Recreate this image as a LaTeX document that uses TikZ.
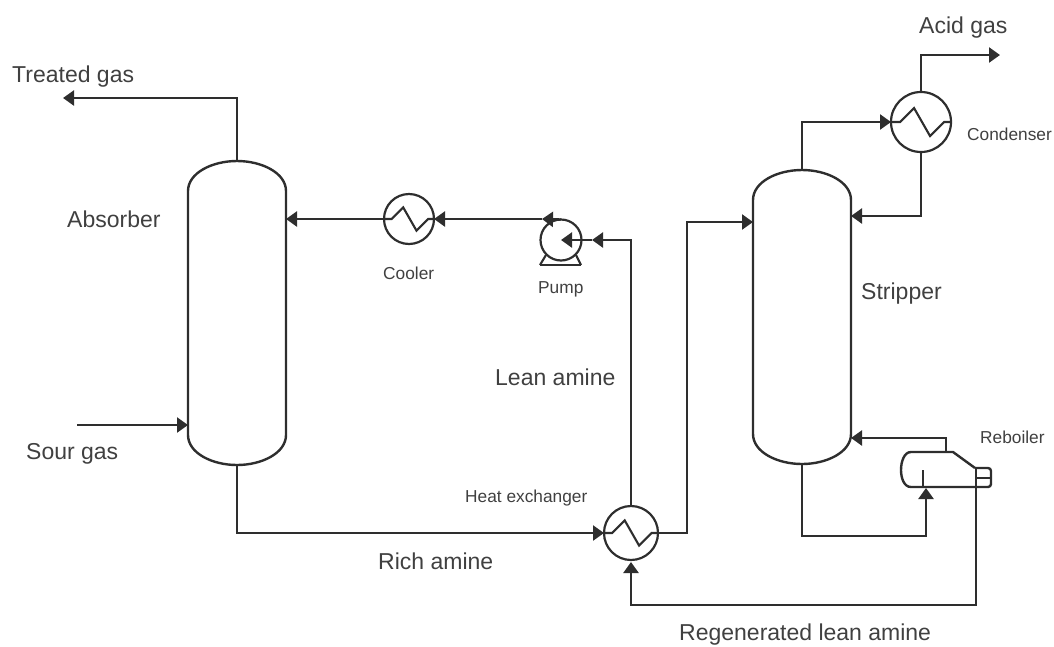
\documentclass[tikz,border=0pt]{standalone}
\usepackage{fontspec}
\setmainfont{Liberation Sans}
\usetikzlibrary{arrows.meta,calc}
\definecolor{ink}{HTML}{2E2E2E}
\definecolor{txt}{HTML}{404040}
\tikzset{
  line/.style={draw=ink,line width=2.4pt,line join=miter},
  thin line/.style={draw=ink,line width=2.1pt},
  flow/.style={line,-{Triangle[length=11pt,width=15pt]}},
  col/.style={minimum width=98pt,inner sep=0pt,outer sep=0pt},
  hx/.style={circle,draw=ink,line width=2.2pt,inner sep=0pt,outer sep=0pt},
  big/.style={font=\fontsize{23}{26}\selectfont,text=txt,inner sep=0pt,anchor=base west},
  small/.style={font=\fontsize{17.3}{20}\selectfont,text=txt,inner sep=0pt,anchor=base west},
}
\newcommand{\colshape}[1]{%
  \draw[line] ([yshift=-30pt]#1.north west)
    .. controls ([yshift=-12pt]#1.north west) and ([xshift=-25pt]#1.north) .. (#1.north)
    .. controls ([xshift=25pt]#1.north) and ([yshift=-12pt]#1.north east) .. ([yshift=-30pt]#1.north east)
    -- ([yshift=30pt]#1.south east)
    .. controls ([yshift=12pt]#1.south east) and ([xshift=25pt]#1.south) .. (#1.south)
    .. controls ([xshift=-25pt]#1.south) and ([yshift=12pt]#1.south west) .. ([yshift=30pt]#1.south west)
    -- cycle;}
\newcommand{\zig}[2]{%
  \draw[thin line,shift={(#1.center)},scale=#2]
    (-30,0) -- (-21,0) -- (-7,-14) -- (9,14) -- (23,0) -- (30,0);}
\begin{document}
\begin{tikzpicture}[x=1pt,y=-1pt]
\useasboundingbox (0,0) rectangle (1054,646);
% vessels
\node[col,minimum height=304pt] (abs) at (237,313) {};
\node[col,minimum height=294pt] (str) at (802,317) {};
\colshape{abs}
\colshape{str}
% exchangers
\node[hx,minimum size=50pt] (cooler) at (409,219) {};
\node[hx,minimum size=54pt] (hxr) at (631,533) {};
\node[hx,minimum size=60pt] (cond) at (921,122) {};
\node[hx,minimum size=41pt] (pump) at (561,240) {};
\zig{cooler}{0.83}
\zig{hxr}{0.9}
\zig{cond}{1}
% pump base
\draw[thin line] (540,265) -- (581,265);
\draw[thin line] (546,255) -- (540,265);
\draw[thin line] (576,255) -- (581,265);
% reboiler
\draw[line,rounded corners=3pt] (975,468) -- (991,468) -- (991,487) -- (975,487);
\draw[line] (975,468) -- (953,452) -- (911,452)
  .. controls (904,452) and (901,462) .. (901,470)
  .. controls (901,478) and (904,487) .. (911,487) -- (975,487);
\draw[thin line] (976,478) -- (990,478);
\draw[thin line] (923,470) -- (923,487);
\coordinate (rebin) at (926,488);
\coordinate (rebout) at (946,452);
\coordinate (rebliq) at (976,468);
% connector ends and bends
\coordinate (tgend) at (63,98);
\coordinate (sgstart) at (77,425);
\coordinate (sgend) at (188,425);
\coordinate (agend) at (1000,55);
\coordinate (hxtop) at (hxr.north);
\coordinate (pumptop) at (pump.north);
\coordinate (pumpmid) at (542,219);
\coordinate (pumparrow) at (592,240);
\coordinate (hxarrow) at (631,562);
% connectors
\draw[flow] (abs.north) |- (tgend);
\draw[flow] (sgstart) -- (sgend);
\draw[flow] (abs.south) |- (hxr.west);
\draw[flow] (cooler.west) -- (abs.east |- cooler.west);
\draw[flow] (pumptop) -- (pumpmid);
\draw[flow] (pumpmid) -- (cooler.east);
\draw[flow] (hxtop) |- (pumparrow);
\draw[flow] (pumparrow) -- (pump.center);
\draw[flow] (hxr.east) -- (687,533) |- (753,222);
\draw[flow] (str.north) |- (cond.west);
\draw[flow] (cond.north) |- (agend);
\draw[flow] (cond.south) |- (851,216);
\draw[flow] (str.south) |- (926,536) -- (rebin);
\draw[flow] (rebout) |- (851,438);
\draw[flow] (rebliq) |- (631,605) -- (hxarrow);
% labels
\node[big] (l1) at (12,82.5) {Treated gas};
\node[big] (l2) at (919,33) {Acid gas};
\node[big] (l3) at (67,227) {Absorber};
\node[small] (l4) at (967,140) {Condenser};
\node[small] (l5) at (383,279) {Cooler};
\node[small] (l6) at (538,293) {Pump};
\node[big] (l7) at (861,299) {Stripper};
\node[big] (l8) at (495,385) {Lean amine};
\node[big] (l9) at (26,459) {Sour gas};
\node[small] (l10) at (465,502) {Heat exchanger};
\node[big] (l11) at (378,569) {Rich amine};
\node[small] (l12) at (980,443) {Reboiler};
\node[big] (l13) at (679,640) {Regenerated lean amine};
\end{tikzpicture}
\end{document}
